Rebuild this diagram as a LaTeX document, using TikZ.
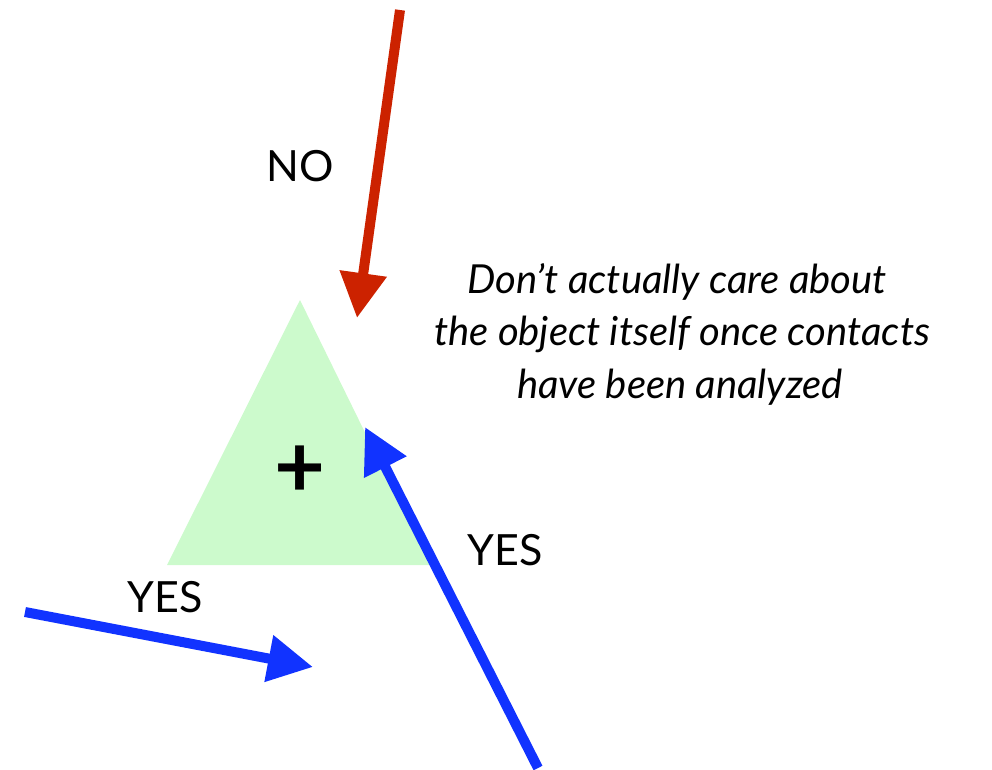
\documentclass[tikz,border=0pt]{standalone}
\usepackage{fontspec}
\setmainfont{Lato}
\usetikzlibrary{arrows.meta}
\definecolor{tri}{RGB}{204,250,204}
\definecolor{redarr}{RGB}{204,34,0}
\definecolor{bluearr}{RGB}{17,51,255}
\begin{document}
\begin{tikzpicture}[x=1pt,y=-1pt,
  arr/.style={line width=10pt,-{Triangle[length=45pt,width=45pt]}},
  lbl/.style={font=\fontsize{43}{50}\selectfont,anchor=base,inner sep=0pt},
  note/.style={font=\fontsize{40}{52}\selectfont\itshape,anchor=base,inner sep=0pt}]
\useasboundingbox (0,0) rectangle (992,769);
\fill[tri] (300,300) coordinate (apex) -- (430,565) coordinate (br) -- (167,565) coordinate (bl) -- cycle;
\node[font=\fontsize{88}{90}\selectfont\bfseries,inner sep=0pt] (plus) at (300,472) {+};
\coordinate (r0) at (400,10);
\coordinate (r1) at (357,318);
\coordinate (b0) at (25,612);
\coordinate (b1) at (313,667);
\coordinate (c0) at (538,768);
\coordinate (c1) at (365,427);
\draw[arr,redarr] (r0) -- (r1);
\draw[arr,bluearr] (b0) -- (b1);
\draw[arr,bluearr] (c0) -- (c1);
\node[lbl] (no) at (300,181) {NO};
\node[lbl] (yes1) at (165,612) {YES};
\node[lbl] (yes2) at (505,565) {YES};
\node[note] (n1) at (677,293) {Don’t actually care about};
\node[note] (n2) at (682,345) {the object itself once contacts};
\node[note] (n3) at (680,398) {have been analyzed};
\end{tikzpicture}
\end{document}
